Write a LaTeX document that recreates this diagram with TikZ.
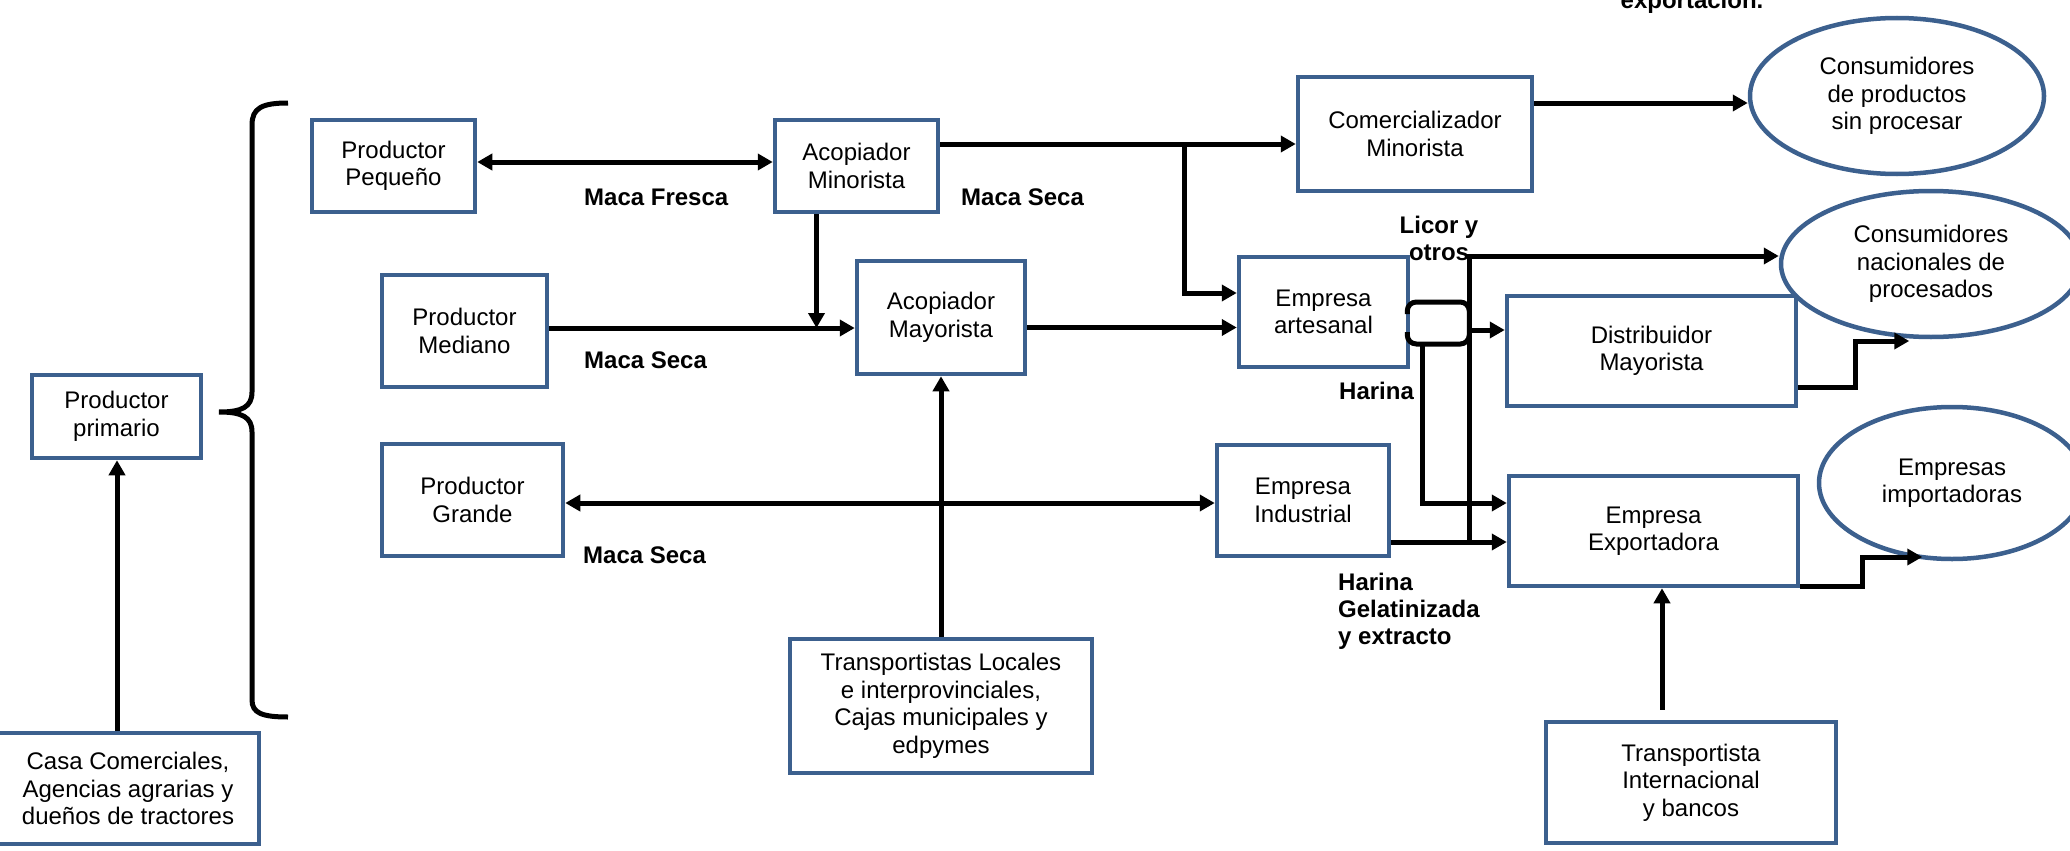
\documentclass[tikz,border=0pt]{standalone}
\usepackage{fontspec}
\setmainfont{Liberation Sans}
\usetikzlibrary{arrows.meta,shapes.geometric,calc}
\definecolor{boxblue}{RGB}{60,96,142}
\begin{document}
\begin{tikzpicture}[x=1pt,y=-1pt,
  box/.style={draw=boxblue, line width=4.5pt, fill=white, inner sep=0pt, align=center, font=\fontsize{24}{27.5}\selectfont},
  oval/.style={ellipse, draw=boxblue, line width=4.5pt, fill=white, inner sep=0pt, align=center, font=\fontsize{24}{27.5}\selectfont},
  lbl/.style={font=\fontsize{24}{27}\selectfont\bfseries, align=left, inner sep=0pt},
  ln/.style={line width=5pt, black},
  arr/.style={ln, -{Triangle[length=15pt,width=16pt]}},
  dbl/.style={ln, {Triangle[length=15pt,width=16pt]}-{Triangle[length=15pt,width=16pt]}},
]
\useasboundingbox (0,0) rectangle (2070,851);

% boxes
\node[box, minimum width=169pt, minimum height=83pt] (prim) at (116.5,416.5) {Productor\\primario};
\node[box, minimum width=262pt, minimum height=111pt] (casa) at (128,788.5) {Casa Comerciales,\\Agencias agrarias y\\dueños de tractores};
\node[box, minimum width=163pt, minimum height=92pt] (peq) at (393.5,166) {Productor\\Pequeño};
\node[box, minimum width=165pt, minimum height=112pt] (med) at (464.5,331) {Productor\\Mediano};
\node[box, minimum width=181pt, minimum height=112pt] (gra) at (472.5,500) {Productor\\Grande};
\node[box, minimum width=163pt, minimum height=92pt] (amin) at (856.5,166) {Acopiador\\Minorista};
\node[box, minimum width=168pt, minimum height=113pt] (amay) at (941,317.5) {Acopiador\\Mayorista};
\node[box, minimum width=234pt, minimum height=114pt] (com) at (1415,134) {Comercializador\\Minorista};
\node[box, minimum width=169pt, minimum height=110pt] (art) at (1323.5,312) {Empresa\\artesanal};
\node[box, minimum width=172pt, minimum height=111pt] (ind) at (1303,500.5) {Empresa\\Industrial};
\node[box, minimum width=289pt, minimum height=110pt] (dist) at (1651.5,351) {Distribuidor\\Mayorista};
\node[box, minimum width=289pt, minimum height=110pt] (exp) at (1653.5,531) {Empresa\\Exportadora};
\node[box, minimum width=302pt, minimum height=134pt] (tloc) at (941,706) {Transportistas Locales\\e interprovinciales,\\Cajas municipales y\\edpymes};
\node[box, minimum width=290pt, minimum height=121pt] (tint) at (1691,782.5) {Transportista\\Internacional\\y bancos};

% ellipses
\node[oval, minimum width=294pt, minimum height=156pt] (e1) at (1897,96) {Consumidores\\de productos\\sin procesar};
\node[oval, minimum width=300pt, minimum height=146pt] (e2) at (1931,264) {Consumidores\\nacionales de\\procesados};
\node[oval, minimum width=266pt, minimum height=152pt] (e3) at (1952,483) {Empresas\\importadoras};

% labels
\node[lbl, anchor=west] (l1) at (584,197) {Maca Fresca};
\node[lbl, anchor=west] (l2) at (961,197) {Maca Seca};
\node[lbl, anchor=west] (l3) at (584,360) {Maca Seca};
\node[lbl, anchor=west] (l4) at (583,555) {Maca Seca};
\node[lbl, align=center] (l5) at (1439,238) {Licor y\\otros};
\node[lbl, anchor=west] (l6) at (1339,391) {Harina};
\node[lbl, anchor=west] (l7) at (1338,611) {Harina\\Gelatinizada\\y extracto};
\node[lbl, anchor=base] (l8) at (1692,9) {exportación.};

% brace
\draw[ln] (288,103) .. controls (262,103) and (252,108) .. (252,125) -- (252,392) .. controls (252,407) and (242,412) .. (219,412) .. controls (242,412) and (252,417) .. (252,432) -- (252,700) .. controls (252,713) and (262,717) .. (288,717);

% connectors
\coordinate (pa) at ([yshift=4pt]peq.east);
\draw[dbl] (pa) -- (pa -| amin.west);

\coordinate (ma) at ([yshift=22pt]amin.east);
\draw[arr] (ma) -- (ma -| com.west);
\coordinate (br1) at ([xshift=244pt]ma);
\coordinate (ar1) at ([yshift=19pt]art.west);
\draw[arr] (br1) |- (ar1);

\coordinate (md) at ([yshift=3pt]med.east);
\draw[arr] (md) -- (md -| amay.west);
\coordinate (mn) at ([xshift=-40pt]amin.south);
\draw[arr] (mn) -- (mn |- md);
\coordinate (ay) at ([yshift=-10pt]amay.east);
\draw[arr] (ay) -- (ay -| art.west);

\coordinate (gr) at ([yshift=-3pt]gra.east);
\draw[dbl] (gr) -- (gr -| ind.west);

\draw[arr] (tloc.north) -- (amay.south);
\coordinate (cs) at ([xshift=-11pt]casa.north);
\draw[arr] (cs) -- (cs |- prim.south);

\coordinate (co) at ([yshift=31pt]com.east);
\draw[arr] (co) -- (co -| e1.west);

\coordinate (in) at ([yshift=-41.5pt]ind.east);
\draw[arr] (in) -- (in -| exp.west);
\coordinate (v1) at ([xshift=78pt]in);
\coordinate (en) at ([yshift=8pt]e2.west);
\draw[arr] (v1) |- (en);
\coordinate (dw) at ([yshift=21pt]dist.west);
\draw[arr] (dw -| v1) -- (dw);

\coordinate (bt) at ([yshift=10pt]art.east);
\coordinate (bb) at ([yshift=-32pt]art.east);
\draw[ln, rounded corners=9pt] ([xshift=-3pt,yshift=-12pt]bt) -- ([xshift=-3pt]bt) -- ([xshift=59pt]bt) -- ([xshift=59pt]bb) -- ([xshift=-3pt]bb) -- ([xshift=-3pt,yshift=12pt]bb);

\coordinate (xw) at ([yshift=28pt]exp.west);
\draw[arr] ([xshift=12pt]bb) |- (xw);

\draw[arr] ([yshift=-36pt]dist.east) -- ++(57,0) -- ++(0,-46) -- ++(54,0);
\draw[arr] ([yshift=-55pt]exp.east) -- ++(62,0) -- ++(0,-29) -- ++(60,0);

\coordinate (ti) at ([xshift=-29pt]tint.north);
\draw[arr, shorten <=10pt] (ti) -- (ti |- exp.south);
\end{tikzpicture}
\end{document}
